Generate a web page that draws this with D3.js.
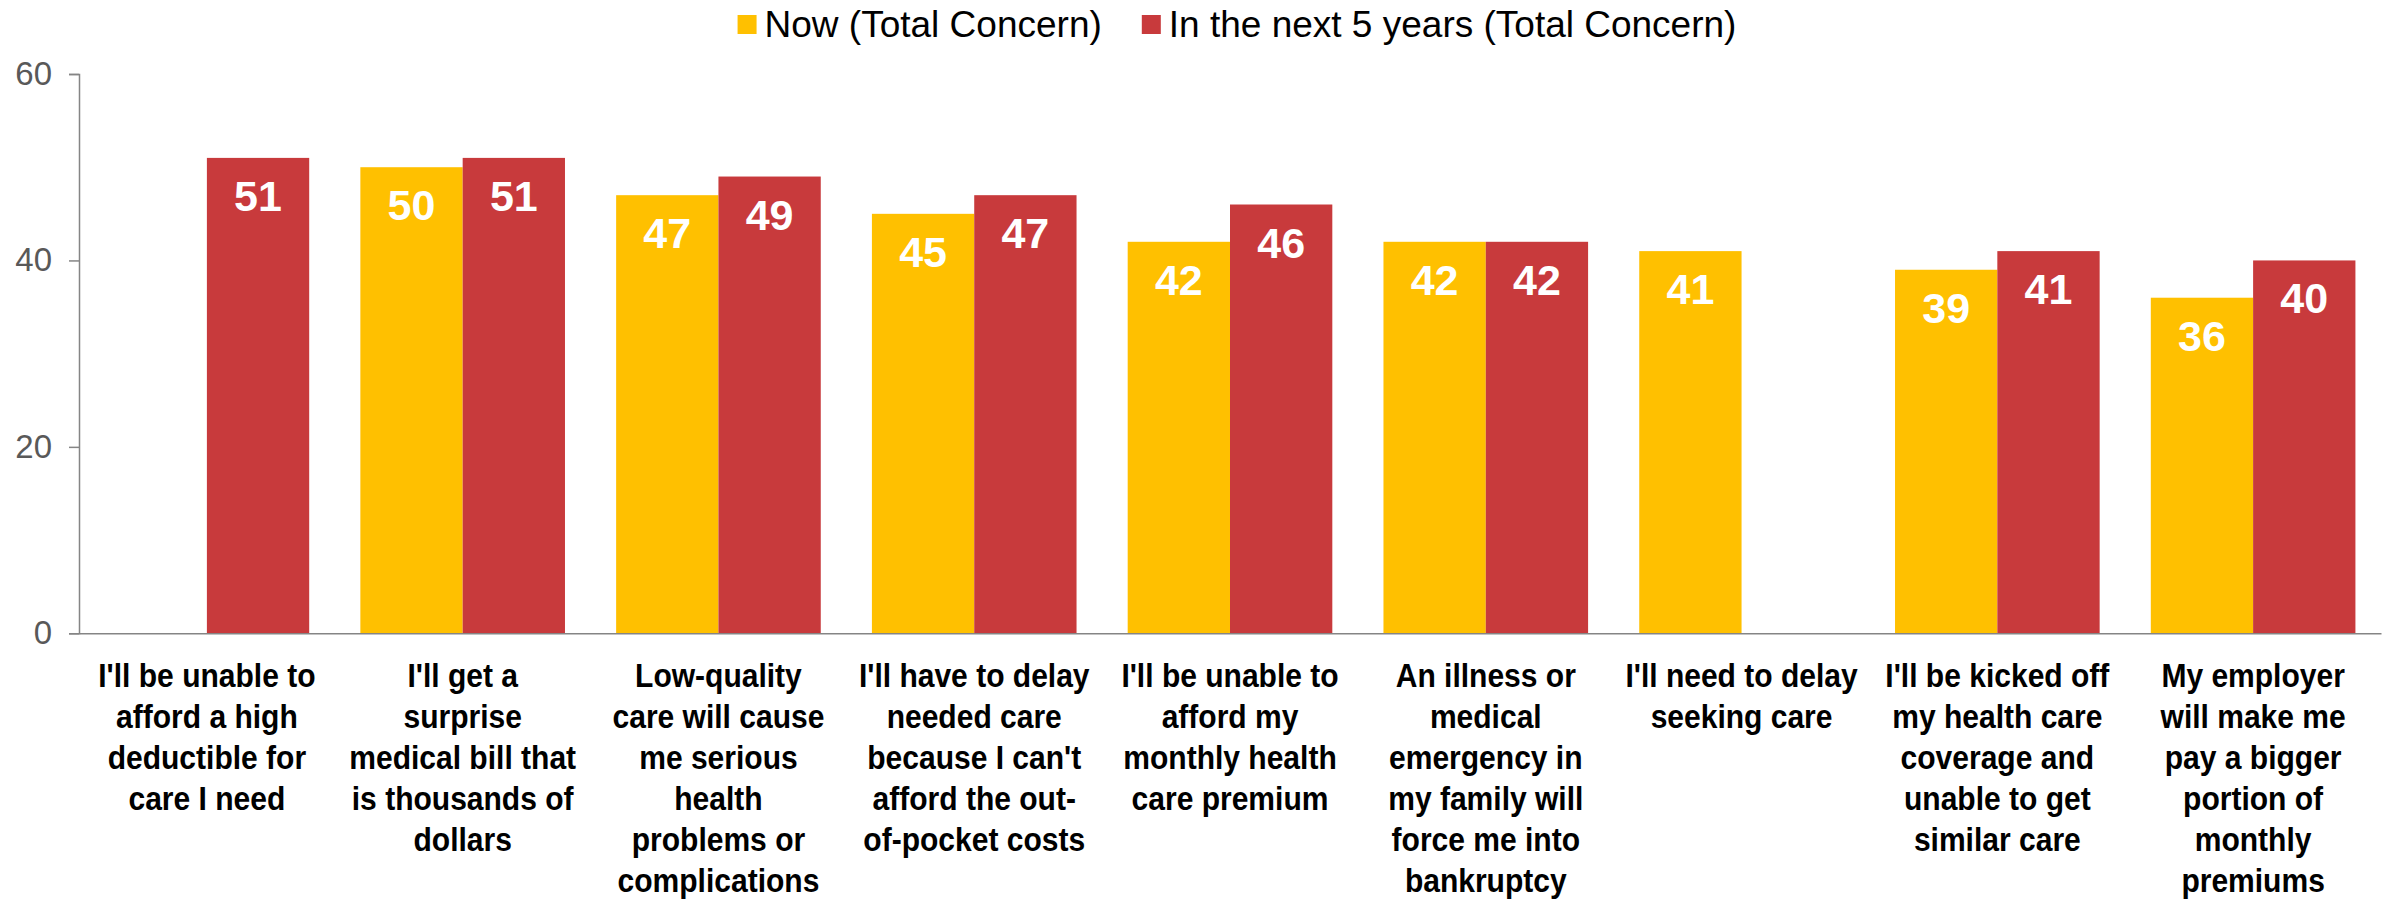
<!DOCTYPE html>
<html>
<head>
<meta charset="utf-8">
<script src="https://cdn.jsdelivr.net/npm/d3@7"></script>
<style>
  html, body { margin: 0; padding: 0; background: #fff; }
  svg { display: block; font-family: "Liberation Sans", Arial, sans-serif; }
</style>
</head>
<body>
<svg id="chart" width="2387" height="902"></svg>
<script>
// Concern items (one label line per entry)
const categories = [
  ["I'll be unable to", "afford a high", "deductible for", "care I need"],
  ["I'll get a", "surprise", "medical bill that", "is thousands of", "dollars"],
  ["Low-quality", "care will cause", "me serious", "health", "problems or", "complications"],
  ["I'll have to delay", "needed care", "because I can't", "afford the out-", "of-pocket costs"],
  ["I'll be unable to", "afford my", "monthly health", "care premium"],
  ["An illness or", "medical", "emergency in", "my family will", "force me into", "bankruptcy"],
  ["I'll need to delay", "seeking care"],
  ["I'll be kicked off", "my health care", "coverage and", "unable to get", "similar care"],
  ["My employer", "will make me", "pay a bigger", "portion of", "monthly", "premiums"]
];

const seriesNames = ["Now (Total Concern)", "In the next 5 years (Total Concern)"];
const nowValues  = [null, 50, 47, 45, 42, 42, 41, 39, 36];
const nextValues = [51, 51, 49, 47, 46, 42, null, 41, 40];
const yTicks = [0, 20, 40, 60];
const colors = ["#FFC000", "#C83A3C"];

const svg = d3.select("#chart");
const plotLeft = 79, plotRight = 2381, plotTop = 74, plotBottom = 633.3;

const keys = categories.map((c, i) => "c" + i);
const x0 = d3.scaleBand().domain(keys).range([plotLeft, plotRight])
  .paddingInner(0.2).paddingOuter(0.1);
const x1 = d3.scaleBand().domain([0, 1]).range([0, x0.bandwidth()]);
const y = d3.scaleLinear().domain([0, 60]).range([plotBottom, plotTop]);

const rows = categories.map((c, i) => ({
  key: keys[i],
  values: [nowValues[i], nextValues[i]]
}));

// Bars
const groups = svg.append("g").selectAll("g").data(rows).join("g")
  .attr("transform", d => `translate(${x0(d.key)},0)`);

groups.selectAll("rect")
  .data(d => d.values.map((v, s) => ({ v, s })).filter(e => e.v != null))
  .join("rect")
  .attr("x", e => x1(e.s))
  .attr("width", x1.bandwidth())
  .attr("y", e => y(e.v))
  .attr("height", e => y(0) - y(e.v))
  .attr("fill", e => colors[e.s]);

// Value labels inside the bars
groups.selectAll("text.val")
  .data(d => d.values.map((v, s) => ({ v, s })).filter(e => e.v != null))
  .join("text")
  .attr("class", "val")
  .attr("x", e => x1(e.s) + x1.bandwidth() / 2)
  .attr("y", e => y(e.v) + 53)
  .attr("text-anchor", "middle")
  .attr("fill", "#fff")
  .attr("font-weight", "bold")
  .attr("font-size", 43)
  .text(e => e.v);

// Y axis
const yAxis = svg.append("g")
  .attr("transform", `translate(${plotLeft},0)`)
  .call(d3.axisLeft(y).tickValues(yTicks).tickSize(10).tickSizeOuter(10).tickPadding(17));
yAxis.selectAll("path, line").attr("stroke", "#858585").attr("stroke-width", 1.5);
yAxis.selectAll("text").attr("fill", "#595959").attr("font-size", 33)
  .attr("font-family", "\"Liberation Sans\", Arial, sans-serif");

// X axis with wrapped category labels
const xAxis = svg.append("g")
  .attr("transform", `translate(0,${plotBottom})`)
  .call(d3.axisBottom(x0).tickSize(0).tickSizeOuter(0).tickFormat(""));
xAxis.select(".domain").attr("stroke", "#858585").attr("stroke-width", 1.5);

xAxis.selectAll(".tick text").each(function (k) {
  const lines = categories[keys.indexOf(k)];
  const t = d3.select(this)
    .attr("fill", "#000")
    .attr("font-weight", "bold")
    .attr("font-size", 33)
    .attr("font-family", "\"Liberation Sans\", Arial, sans-serif")
    .attr("text-anchor", "middle")
    .attr("transform", "scale(0.91,1)")
    .attr("y", 0).attr("dy", null);
  lines.forEach((ln, j) => {
    t.append("tspan").attr("x", 0).attr("y", 54 + j * 41).text(ln);
  });
});

// Legend
const legend = svg.append("g").attr("font-size", 37).attr("fill", "#000");
let lx = 0;
seriesNames.forEach((name, i) => {
  const g = legend.append("g");
  g.append("rect").attr("x", 0).attr("y", 15).attr("width", 19).attr("height", 19).attr("fill", colors[i]);
  const tx = g.append("text").attr("x", 27).attr("y", 37).text(name);
  const w = 27 + tx.node().getComputedTextLength();
  g.attr("transform", `translate(${lx},0)`);
  lx += w + 40;
});
const totalW = lx - 40;
legend.attr("transform", `translate(${1237 - totalW / 2},0)`);
</script>
</body>
</html>
